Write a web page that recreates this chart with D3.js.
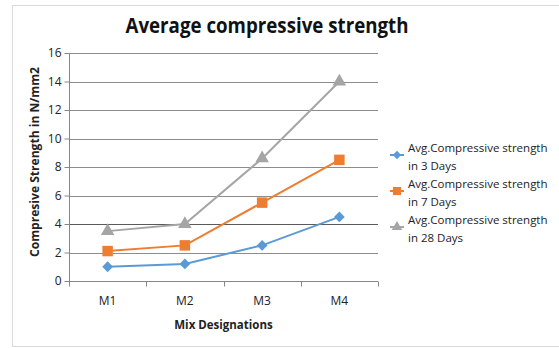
<!DOCTYPE html>
<html>
<head>
<meta charset="utf-8">
<script src="https://cdn.jsdelivr.net/npm/d3@7"></script>
<style>
  body { margin: 0; background: #fff; }
  svg { display: block; font-family: "Open Sans", "Noto Sans", sans-serif; }
</style>
</head>
<body>
<div id="chart"></div>
<script>
const categories = ['M1', 'M2', 'M3', 'M4'];
const yTicks = [0, 2, 4, 6, 8, 10, 12, 14, 16];
const days3 = [1.0, 1.2, 2.5, 4.5];
const days7 = [2.1, 2.5, 5.5, 8.5];
const days28 = [3.5, 4.0, 8.6, 14.0];
const seriesNames = [
  ['Avg.Compressive strength', 'in 3 Days'],
  ['Avg.Compressive strength', 'in 7 Days'],
  ['Avg.Compressive strength', 'in 28 Days'],
];

const WIDTH = 559;
const HEIGHT = 348;
const MARGIN = { TOP: 53, RIGHT: 181, BOTTOM: 67, LEFT: 69 };
const plotWidth = WIDTH - MARGIN.LEFT - MARGIN.RIGHT;
const plotHeight = HEIGHT - MARGIN.TOP - MARGIN.BOTTOM;

// diamond = square turned 45 degrees, as in the office chart
const series = [
  { name: seriesNames[0], values: days3, color: '#5B9BD5', symbol: d3.symbolSquare, size: 58, rotate: 45 },
  { name: seriesNames[1], values: days7, color: '#ED7D31', symbol: d3.symbolSquare, size: 110, rotate: 0 },
  { name: seriesNames[2], values: days28, color: '#A5A5A5', symbol: d3.symbolTriangle, size: 80, rotate: 0 },
];

const svg = d3.select('#chart')
  .append('svg')
  .attr('width', WIDTH)
  .attr('height', HEIGHT);

// chart frame
svg.append('rect')
  .attr('x', 12.5)
  .attr('y', 5.5)
  .attr('width', WIDTH + 10)
  .attr('height', 341)
  .attr('fill', '#fff')
  .attr('stroke', '#d9d9d9');

svg.append('text')
  .attr('x', 267)
  .attr('y', 33)
  .attr('text-anchor', 'middle')
  .attr('font-size', 21)
  .attr('font-weight', 'bold')
  .attr('fill', '#111')
  .attr('textLength', 283)
  .attr('lengthAdjust', 'spacingAndGlyphs')
  .text('Average compressive strength');

const g = svg.append('g')
  .attr('transform', `translate(${MARGIN.LEFT}, ${MARGIN.TOP})`);

const x = d3.scaleBand().domain(categories).range([0, plotWidth]);
const y = d3.scaleLinear().domain([0, 16]).range([plotHeight, 0]);

// gridlines
g.append('g')
  .selectAll('line')
  .data(yTicks.filter((d) => d > 0))
  .join('line')
  .attr('x1', 0)
  .attr('x2', plotWidth)
  .attr('y1', (d) => Math.round(y(d)) + 0.5)
  .attr('y2', (d) => Math.round(y(d)) + 0.5)
  .attr('stroke', (d) => (d === 4 ? '#5a5a5a' : '#8c8c8c'))
  .attr('stroke-width', 1);

// y axis
const yAxis = g.append('g')
  .attr('transform', 'translate(0.5, 0)')
  .call(d3.axisLeft(y).tickValues(yTicks).tickSize(5).tickPadding(3));
yAxis.selectAll('line, path').attr('stroke', '#868686');
yAxis.select('.domain').attr('d', `M0,0V${plotHeight}`);
yAxis.selectAll('text')
  .attr('font-size', 12)
  .attr('fill', '#222')
  .attr('font-family', '"Open Sans", sans-serif');

// x axis, ticks at category boundaries
const xAxisG = g.append('g')
  .attr('transform', `translate(0, ${Math.round(plotHeight) + 0.5})`);
xAxisG.append('line')
  .attr('x1', 0)
  .attr('x2', plotWidth)
  .attr('stroke', '#868686');
xAxisG.selectAll('.tick')
  .data(categories.map((c) => x(c)).concat([plotWidth]))
  .join('line')
  .attr('class', 'tick')
  .attr('x1', (d) => Math.round(d) + 0.5)
  .attr('x2', (d) => Math.round(d) + 0.5)
  .attr('y1', 0)
  .attr('y2', 5)
  .attr('stroke', '#868686');
xAxisG.selectAll('.label')
  .data(categories)
  .join('text')
  .attr('class', 'label')
  .attr('x', (d) => x(d) + x.bandwidth() / 2)
  .attr('y', 23)
  .attr('text-anchor', 'middle')
  .attr('font-size', 12)
  .attr('fill', '#222')
  .text((d) => d);

// axis titles
g.append('text')
  .attr('x', plotWidth / 2)
  .attr('y', plotHeight + 48)
  .attr('text-anchor', 'middle')
  .attr('font-size', 11.5)
  .attr('font-weight', 'bold')
  .attr('fill', '#222')
  .text('Mix Designations');

g.append('text')
  .attr('transform', 'rotate(-90)')
  .attr('x', -109)
  .attr('y', -30)
  .attr('text-anchor', 'middle')
  .attr('font-size', 11.5)
  .attr('font-weight', 'bold')
  .attr('fill', '#222')
  .attr('textLength', 190)
  .attr('lengthAdjust', 'spacingAndGlyphs')
  .text('Compresive Strength in N/mm2');

// lines and markers
const line = d3.line()
  .x((d, i) => x(categories[i]) + x.bandwidth() / 2)
  .y((d) => y(d));

series.forEach((s) => {
  g.append('path')
    .datum(s.values)
    .attr('d', line)
    .attr('fill', 'none')
    .attr('stroke', s.color)
    .attr('stroke-width', 2);

  g.append('g')
    .selectAll('path')
    .data(s.values)
    .join('path')
    .attr('transform', (d, i) =>
      `translate(${x(categories[i]) + x.bandwidth() / 2}, ${y(d)}) rotate(${s.rotate})`)
    .attr('d', d3.symbol(s.symbol, s.size))
    .attr('fill', s.color);
});

// legend
const legend = svg.append('g').attr('transform', 'translate(397, 0)');
const legendTop = [148, 184, 220];
series.forEach((s, i) => {
  const row = legend.append('g').attr('transform', `translate(0, ${legendTop[i]})`);
  row.append('line')
    .attr('x1', -7)
    .attr('x2', 7)
    .attr('y1', 7)
    .attr('y2', 7)
    .attr('stroke', s.color)
    .attr('stroke-width', 2);
  row.append('path')
    .attr('transform', `translate(0, 7) rotate(${s.rotate})`)
    .attr('d', d3.symbol(s.symbol, s.size * 0.6))
    .attr('fill', s.color);
  row.selectAll('text')
    .data(s.name)
    .join('text')
    .attr('x', 11)
    .attr('y', (d, j) => j * 18 + 4)
    .attr('font-size', 11.5)
    .attr('fill', '#222')
    .text((d) => d);
});
</script>
</body>
</html>
